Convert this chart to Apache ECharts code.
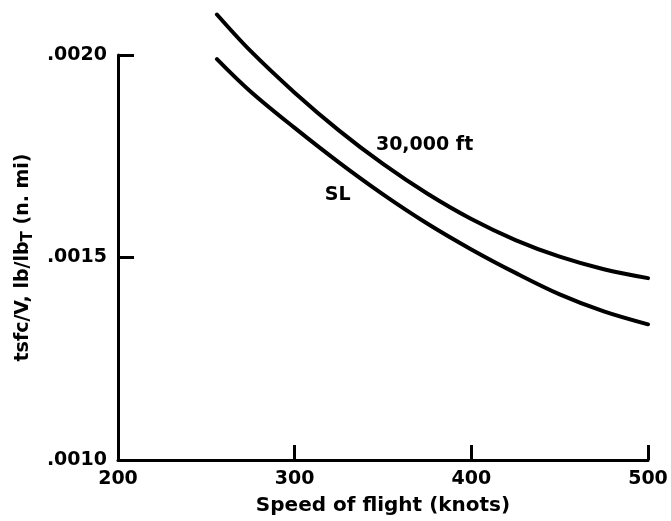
<!DOCTYPE html>
<html>
<head>
<meta charset="utf-8">
<script src="https://cdn.jsdelivr.net/npm/echarts@6/dist/echarts.min.js"></script>
<style>
  html, body { margin: 0; padding: 0; background: #fff; }
  #chart { width: 671px; height: 521px; }
</style>
</head>
<body>
<div id="chart"></div>
<script>
// Flight speed, knots
const speeds = [256, 275, 300, 325, 350, 375, 400, 425, 450, 475, 500];
// tsfc/V at 30,000 ft and at sea level
const alt30k = [0.00210, 0.00201, 0.001907, 0.001814, 0.001731, 0.001658, 0.001595, 0.001543, 0.001502, 0.001471, 0.001449];
const seaLevel = [0.00199, 0.00191, 0.00182, 0.001735, 0.001656, 0.001584, 0.00152, 0.001462, 0.001409, 0.001367, 0.001335];
// Curve labels: [speed, tsfc/V, text]
const curveLabels = [
  [346, 0.001778, '30,000 ft'],
  [317, 0.001655, 'SL']
];
const xTicks = { min: 200, max: 500, step: 100 };
const yTicks = { min: 0.0010, max: 0.0020, step: 0.0005 };

const FONT = 'DejaVu Sans';
const pairs = (xs, ys) => xs.map((x, i) => [x, ys[i]]);
const curveStyle = { color: '#000', width: 4, cap: 'round' };

const chart = echarts.init(document.getElementById('chart'), null, { renderer: 'canvas' });
chart.setOption({
  animation: false,
  backgroundColor: '#fff',
  grid: { left: 118, right: 23, top: 55, bottom: 60 },
  xAxis: {
    type: 'value',
    min: xTicks.min, max: xTicks.max, interval: xTicks.step,
    name: 'Speed of flight (knots)',
    nameLocation: 'middle',
    nameGap: 36,
    nameTextStyle: { fontFamily: FONT, fontWeight: 'bold', fontSize: 20, color: '#000' },
    axisLine: { lineStyle: { color: '#000', width: 3 } },
    axisTick: { inside: true, length: 15, lineStyle: { color: '#000', width: 3 } },
    axisLabel: { margin: 10, fontFamily: FONT, fontWeight: 'bold', fontSize: 19, color: '#000' },
    splitLine: { show: false }
  },
  yAxis: {
    type: 'value',
    min: yTicks.min, max: yTicks.max, interval: yTicks.step,
    name: '{a|tsfc/V, lb/lb}{s|T}{a| (n. mi)}',
    nameLocation: 'middle',
    nameGap: 80,
    nameRotate: 90,
    nameTextStyle: {
      rich: {
        a: { fontFamily: FONT, fontWeight: 'bold', fontSize: 19, color: '#000', lineHeight: 26, verticalAlign: 'middle' },
        s: { fontFamily: FONT, fontWeight: 'bold', fontSize: 15, color: '#000', lineHeight: 15, verticalAlign: 'bottom' }
      }
    },
    axisLine: { show: true, lineStyle: { color: '#000', width: 3 } },
    axisTick: { show: true, inside: true, length: 16, lineStyle: { color: '#000', width: 3 } },
    axisLabel: {
      margin: 11, fontFamily: FONT, fontWeight: 'bold', fontSize: 19, color: '#000',
      formatter: v => v.toFixed(4).replace(/^0/, '')
    },
    splitLine: { show: false }
  },
  series: [
    {
      name: '30,000 ft', type: 'line', data: pairs(speeds, alt30k),
      smooth: 0.35, showSymbol: false, symbol: 'none', clip: false,
      lineStyle: curveStyle
    },
    {
      name: 'SL', type: 'line', data: pairs(speeds, seaLevel),
      smooth: 0.35, showSymbol: false, symbol: 'none', clip: false,
      lineStyle: curveStyle
    },
    {
      type: 'scatter', symbolSize: 0, silent: true,
      itemStyle: { opacity: 1 },
      data: curveLabels.map(d => ({ value: [d[0], d[1]], name: d[2] })),
      label: {
        show: true, position: 'right', distance: 0, formatter: p => p.name,
        fontFamily: FONT, fontWeight: 'bold', fontSize: 19, color: '#000', opacity: 1
      }
    }
  ]
});
</script>
</body>
</html>
